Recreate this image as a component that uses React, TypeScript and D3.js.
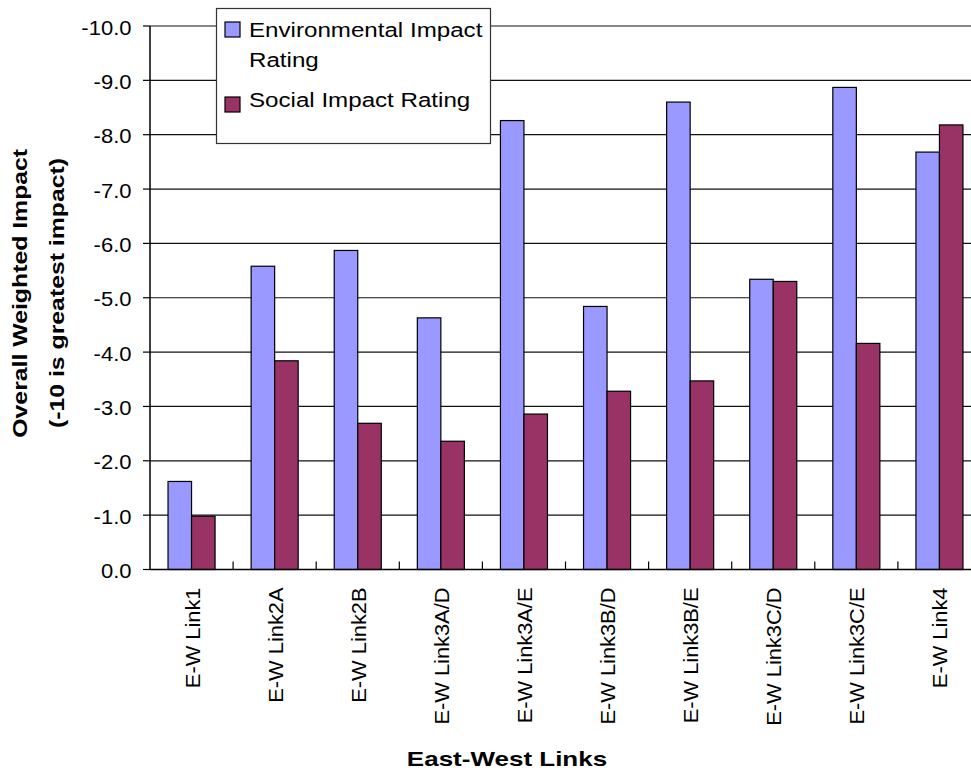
import React from "react";
import * as d3 from "d3";

const categories = [
  "E-W Link1",
  "E-W Link2A",
  "E-W Link2B",
  "E-W Link3A/D",
  "E-W Link3A/E",
  "E-W Link3B/D",
  "E-W Link3B/E",
  "E-W Link3C/D",
  "E-W Link3C/E",
  "E-W Link4",
];
const environmental = [-1.62, -5.58, -5.87, -4.63, -8.26, -4.84, -8.6, -5.34, -8.87, -7.68];
const social = [-0.98, -3.84, -2.69, -2.36, -2.86, -3.28, -3.47, -5.3, -4.16, -8.18];
const seriesNames = ["Environmental Impact Rating", "Social Impact Rating"];
const seriesColors = ["#9999FF", "#993366"];
const yTicks = [0, -1, -2, -3, -4, -5, -6, -7, -8, -9, -10];

const W = 971;
const H = 771;
const left = 150;
const right = 981;
const top = 26;
const bottom = 569.5;
const font = "'Liberation Sans', Arial, sans-serif";

export default function App() {
  const x = d3.scaleBand<string>().domain(categories).range([left, right]).paddingInner(0).paddingOuter(0);
  const y = d3.scaleLinear().domain([0, -10]).range([bottom, top]);
  const bw = x.bandwidth();
  const barW = bw * 0.283;
  const groupOffset = (bw - 2 * barW) / 2;
  const series = [environmental, social];

  return (
    <svg width={W} height={H} style={{ display: "block", position: "absolute", left: 0, top: 0 }} fontFamily={font}>
      <rect x={0} y={0} width={W} height={H} fill="#fff" />
      {/* gridlines */}
      {yTicks.filter((t) => t !== 0).map((t) => (
        <line key={t} x1={left} x2={right} y1={y(t)} y2={y(t)} stroke="#111" strokeWidth={1.2} />
      ))}
      {/* bars */}
      {series.map((vals, si) =>
        vals.map((v, i) => {
          const bx = (x(categories[i]) as number) + groupOffset + si * barW;
          return (
            <rect
              key={`${si}-${i}`}
              x={bx}
              y={y(v)}
              width={barW}
              height={y(0) - y(v)}
              fill={seriesColors[si]}
              stroke="#000"
              strokeWidth={1.2}
            />
          );
        })
      )}
      {/* y axis */}
      <line x1={left} x2={left} y1={top} y2={bottom} stroke="#000" strokeWidth={1.5} />
      {yTicks.map((t) => (
        <g key={t}>
          <line x1={left - 7} x2={left} y1={y(t)} y2={y(t)} stroke="#000" strokeWidth={1.2} />
          <text transform={`translate(131.5,${y(t) + 8.5}) scale(1.1,1)`} textAnchor="end" fontSize={20} fill="#000">
            {t.toFixed(1)}
          </text>
        </g>
      ))}
      {/* x axis */}
      <line x1={left} x2={right} y1={bottom} y2={bottom} stroke="#000" strokeWidth={1.5} />
      {categories.slice(1).map((c) => (
        <line key={c} x1={x(c) as number} x2={x(c) as number} y1={bottom} y2={bottom - 8} stroke="#000" strokeWidth={1.2} />
      ))}
      {categories.map((c) => {
        const cx = (x(c) as number) + bw / 2;
        return (
          <text
            key={c}
            transform={`translate(${cx + 8},587.5) rotate(-90) scale(1.04,1)`}
            textAnchor="end"
            fontSize={21}
            fill="#000"
          >
            {c}
          </text>
        );
      })}
      {/* axis titles */}
      <text transform="translate(507,766) scale(1.3,1)" textAnchor="middle" fontSize={20} fontWeight="bold" fill="#000">
        East-West Links
      </text>
      <text transform="translate(26.5,293.3) rotate(-90) scale(1.24,1)" textAnchor="middle" fontSize={20} fontWeight="bold" fill="#000">
        Overall Weighted Impact
      </text>
      <text transform="translate(63.5,293) rotate(-90) scale(1.24,1)" textAnchor="middle" fontSize={20} fontWeight="bold" fill="#000">
        (-10 is greatest impact)
      </text>
      {/* legend */}
      <rect x={216.5} y={8.5} width={274} height={135} fill="#fff" stroke="#333" strokeWidth={1.2} />
      <rect x={225} y={22} width={15} height={15} fill={seriesColors[0]} stroke="#000" strokeWidth={1.2} />
      <text transform="translate(249,37) scale(1.15,1)" fontSize={21} fill="#000">Environmental Impact</text>
      <text transform="translate(249,67) scale(1.15,1)" fontSize={21} fill="#000">Rating</text>
      <rect x={225} y={97} width={15} height={15} fill={seriesColors[1]} stroke="#000" strokeWidth={1.2} />
      <text transform="translate(249,106.5) scale(1.15,1)" fontSize={21} fill="#000">{seriesNames[1]}</text>
    </svg>
  );
}
